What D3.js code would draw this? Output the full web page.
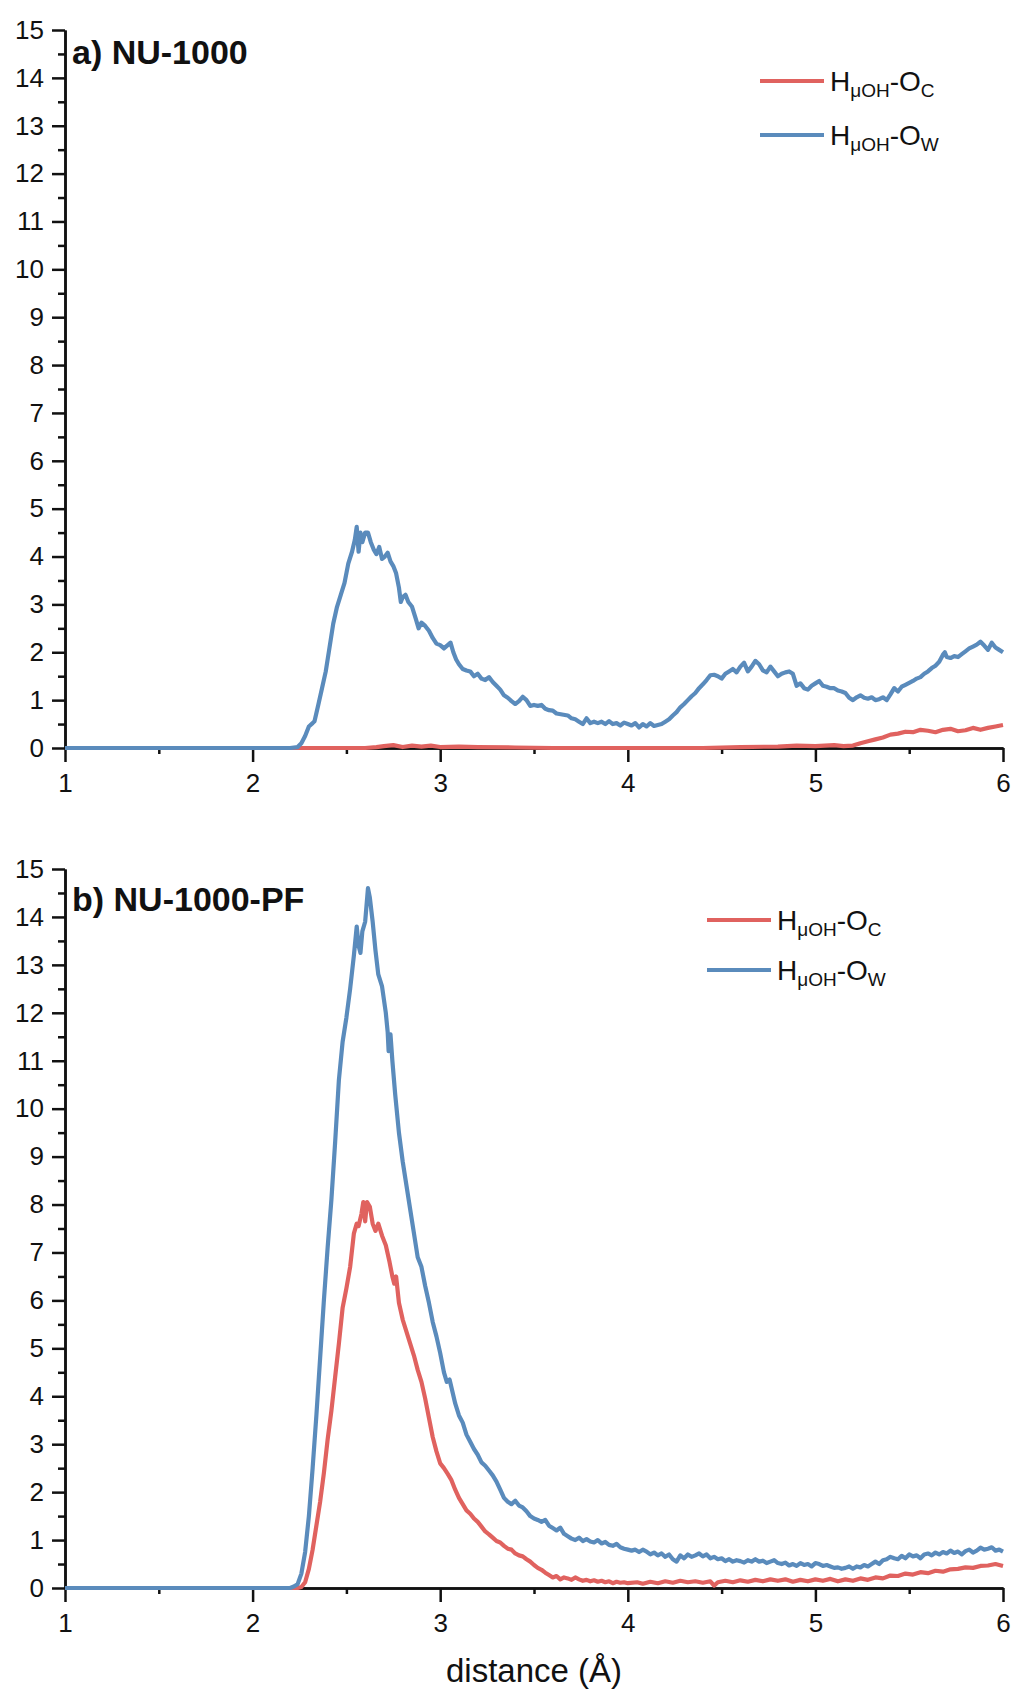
<!DOCTYPE html>
<html>
<head>
<meta charset="utf-8">
<script src="https://cdn.jsdelivr.net/npm/d3@7"></script>
<style>
  html, body { margin: 0; padding: 0; background: #fff; }
  svg { display: block; }
  text { font-family: "Liberation Sans", Arial, sans-serif; fill: #111; }
</style>
</head>
<body>
<svg id="chart" width="1016" height="1693"></svg>
<script>
// Radial distribution functions g(r) of the μ-OH hydrogen, two frameworks.
const xTicks = [1, 2, 3, 4, 5, 6];
const xMinorTicks = [1.5, 2.5, 3.5, 4.5, 5.5];
const yTicks = [0, 1, 2, 3, 4, 5, 6, 7, 8, 9, 10, 11, 12, 13, 14, 15];
const yMinorTicks = [0.5, 1.5, 2.5, 3.5, 4.5, 5.5, 6.5, 7.5, 8.5, 9.5, 10.5, 11.5, 12.5, 13.5, 14.5];

const seriesNames = ["Oc", "Ow"];
const panelTitles = ["a) NU-1000", "b) NU-1000-PF"];
const axisTitle = "distance (Å)";

// a) NU-1000 : H(μOH)–O(carboxylate)
const nu1000Oc = [
  [1.0,0],[2.3,0],[2.6,0],[2.66,0.02],[2.7,0.04],[2.75,0.06],[2.8,0.02],[2.85,0.05],[2.9,0.03],[2.95,0.05],
  [3.0,0.02],[3.1,0.03],[3.2,0.02],[3.4,0.01],[3.6,0],[4.0,0],[4.4,0],[4.6,0.02],[4.8,0.03],[4.9,0.05],
  [5.0,0.04],[5.1,0.06],[5.15,0.04],[5.2,0.05],[5.24,0.1],[5.28,0.14],[5.32,0.18],[5.36,0.22],[5.4,0.28],
  [5.44,0.3],[5.48,0.34],[5.52,0.33],[5.56,0.38],[5.6,0.36],[5.64,0.33],[5.68,0.38],[5.72,0.4],[5.76,0.35],
  [5.8,0.37],[5.84,0.42],[5.88,0.38],[5.92,0.42],[5.96,0.45],[6.0,0.48]
];

// a) NU-1000 : H(μOH)–O(water)
const nu1000Ow = [
  [1.0,0],[2.2,0],[2.24,0.02],[2.26,0.1],[2.28,0.25],[2.3,0.45],[2.32,0.52],[2.33,0.56],[2.35,0.9],[2.37,1.25],
  [2.39,1.6],[2.41,2.1],[2.43,2.6],[2.45,2.95],[2.47,3.2],[2.49,3.45],[2.51,3.85],[2.53,4.1],[2.545,4.35],
  [2.555,4.62],[2.565,4.1],[2.575,4.5],[2.585,4.3],[2.6,4.5],[2.615,4.5],[2.63,4.3],[2.645,4.15],[2.66,4.05],
  [2.675,4.2],[2.69,3.95],[2.705,4.0],[2.72,4.08],[2.735,3.9],[2.75,3.8],[2.765,3.65],[2.78,3.35],[2.79,3.05],
  [2.8,3.15],[2.815,3.2],[2.83,3.05],[2.85,2.95],[2.87,2.7],[2.885,2.5],[2.9,2.62],[2.92,2.55],[2.94,2.45],
  [2.96,2.3],[2.98,2.18],[3.0,2.15],[3.02,2.08],[3.04,2.15],[3.055,2.2],[3.07,2.0],[3.085,1.85],[3.1,1.75],
  [3.12,1.65],[3.14,1.62],[3.16,1.6],[3.18,1.5],[3.2,1.55],[3.22,1.45],[3.24,1.42],[3.26,1.48],[3.28,1.38],
  [3.3,1.3],[3.32,1.22],[3.34,1.1],[3.36,1.05],[3.38,0.98],[3.4,0.92],[3.42,0.98],[3.44,1.07],[3.46,1.0],
  [3.48,0.88],[3.5,0.9],[3.52,0.88],[3.54,0.9],[3.56,0.82],[3.58,0.79],[3.6,0.78],[3.62,0.72],[3.65,0.7],
  [3.68,0.68],[3.7,0.62],[3.72,0.6],[3.74,0.55],[3.76,0.5],[3.78,0.62],[3.8,0.52],[3.82,0.55],[3.84,0.52],
  [3.86,0.55],[3.88,0.5],[3.9,0.56],[3.92,0.5],[3.94,0.52],[3.96,0.47],[3.98,0.53],[4.0,0.5],[4.02,0.47],
  [4.04,0.52],[4.06,0.43],[4.08,0.5],[4.1,0.45],[4.12,0.52],[4.14,0.46],[4.16,0.48],[4.18,0.5],[4.2,0.55],
  [4.22,0.6],[4.24,0.68],[4.26,0.75],[4.28,0.85],[4.3,0.92],[4.32,1.0],[4.34,1.08],[4.36,1.15],[4.38,1.25],
  [4.4,1.33],[4.42,1.42],[4.44,1.52],[4.46,1.53],[4.48,1.5],[4.5,1.45],[4.52,1.55],[4.54,1.6],[4.56,1.65],
  [4.58,1.58],[4.6,1.7],[4.62,1.78],[4.64,1.6],[4.66,1.7],[4.68,1.82],[4.7,1.75],[4.72,1.62],[4.74,1.58],
  [4.76,1.7],[4.78,1.6],[4.8,1.5],[4.82,1.55],[4.84,1.58],[4.86,1.6],[4.88,1.55],[4.9,1.3],[4.92,1.35],
  [4.94,1.25],[4.96,1.22],[4.98,1.3],[5.0,1.35],[5.02,1.4],[5.04,1.3],[5.06,1.28],[5.08,1.25],[5.1,1.25],
  [5.12,1.2],[5.14,1.18],[5.16,1.15],[5.18,1.05],[5.2,1.0],[5.22,1.06],[5.24,1.1],[5.26,1.05],[5.28,1.03],
  [5.3,1.06],[5.32,1.0],[5.34,1.02],[5.36,1.06],[5.38,1.0],[5.4,1.12],[5.42,1.25],[5.44,1.18],[5.46,1.28],
  [5.48,1.32],[5.5,1.36],[5.52,1.4],[5.54,1.45],[5.56,1.48],[5.58,1.55],[5.6,1.6],[5.62,1.67],[5.64,1.72],
  [5.66,1.8],[5.68,1.95],[5.69,2.0],[5.7,1.9],[5.72,1.88],[5.74,1.92],[5.76,1.9],[5.78,1.96],[5.8,2.02],
  [5.82,2.08],[5.84,2.12],[5.86,2.16],[5.88,2.22],[5.9,2.14],[5.92,2.05],[5.94,2.2],[5.96,2.1],[5.98,2.05],
  [6.0,2.0]
];

// b) NU-1000-PF : H(μOH)–O(carboxylate)
const nu1000pfOc = [
  [1.0,0],[2.24,0],[2.26,0.02],[2.28,0.12],[2.3,0.4],[2.32,0.8],[2.34,1.3],[2.36,1.8],[2.38,2.4],[2.4,3.1],
  [2.42,3.7],[2.44,4.4],[2.46,5.1],[2.48,5.85],[2.5,6.25],[2.52,6.7],[2.54,7.4],[2.555,7.6],[2.565,7.55],
  [2.58,7.8],[2.59,8.05],[2.6,7.65],[2.61,8.05],[2.625,7.95],[2.64,7.6],[2.655,7.45],[2.67,7.6],[2.69,7.35],
  [2.71,7.15],[2.73,6.8],[2.745,6.5],[2.755,6.35],[2.765,6.5],[2.78,5.95],[2.8,5.6],[2.82,5.35],[2.84,5.1],
  [2.86,4.85],[2.88,4.55],[2.9,4.3],[2.92,3.95],[2.94,3.55],[2.96,3.15],[2.98,2.85],[3.0,2.6],[3.02,2.5],
  [3.04,2.38],[3.06,2.25],[3.08,2.05],[3.1,1.88],[3.12,1.75],[3.14,1.62],[3.16,1.55],[3.18,1.45],[3.2,1.38],
  [3.22,1.28],[3.24,1.18],[3.26,1.12],[3.28,1.05],[3.3,0.98],[3.32,0.95],[3.34,0.88],[3.36,0.82],[3.38,0.8],
  [3.4,0.72],[3.42,0.68],[3.44,0.66],[3.46,0.6],[3.48,0.55],[3.5,0.48],[3.52,0.42],[3.54,0.38],[3.56,0.32],
  [3.58,0.27],[3.6,0.22],[3.62,0.25],[3.64,0.18],[3.66,0.22],[3.68,0.2],[3.7,0.17],[3.72,0.22],[3.74,0.18],
  [3.76,0.15],[3.78,0.17],[3.8,0.14],[3.82,0.16],[3.84,0.13],[3.86,0.15],[3.88,0.12],[3.9,0.14],[3.92,0.1],
  [3.94,0.13],[3.96,0.11],[3.98,0.12],[4.0,0.1],[4.05,0.12],[4.08,0.09],[4.12,0.13],[4.16,0.1],[4.2,0.14],
  [4.24,0.11],[4.28,0.15],[4.32,0.12],[4.36,0.14],[4.4,0.11],[4.44,0.14],[4.46,0.05],[4.48,0.12],[4.52,0.15],
  [4.56,0.12],[4.6,0.16],[4.64,0.13],[4.68,0.17],[4.72,0.14],[4.76,0.18],[4.8,0.15],[4.84,0.18],[4.88,0.13],
  [4.92,0.17],[4.96,0.14],[5.0,0.18],[5.04,0.15],[5.08,0.19],[5.12,0.14],[5.16,0.18],[5.2,0.15],[5.24,0.2],
  [5.28,0.17],[5.32,0.22],[5.36,0.2],[5.4,0.26],[5.44,0.25],[5.48,0.3],[5.52,0.28],[5.56,0.33],[5.6,0.31],
  [5.64,0.36],[5.68,0.34],[5.72,0.39],[5.76,0.4],[5.8,0.43],[5.84,0.42],[5.88,0.46],[5.92,0.47],[5.96,0.5],
  [6.0,0.46]
];

// b) NU-1000-PF : H(μOH)–O(water)
const nu1000pfOw = [
  [1.0,0],[2.2,0],[2.22,0.03],[2.24,0.08],[2.26,0.3],[2.28,0.75],[2.3,1.5],[2.32,2.5],[2.34,3.6],[2.36,4.8],
  [2.38,6.0],[2.4,7.1],[2.42,8.1],[2.44,9.3],[2.46,10.6],[2.48,11.4],[2.5,11.9],[2.52,12.5],[2.54,13.2],
  [2.555,13.8],[2.565,13.4],[2.575,13.25],[2.585,13.7],[2.6,13.9],[2.615,14.6],[2.625,14.4],[2.64,13.9],
  [2.655,13.3],[2.67,12.8],[2.69,12.55],[2.71,12.0],[2.72,11.6],[2.725,11.2],[2.735,11.55],[2.745,11.0],
  [2.76,10.3],[2.78,9.5],[2.8,8.9],[2.82,8.4],[2.84,7.9],[2.86,7.4],[2.88,6.9],[2.9,6.7],[2.92,6.3],
  [2.94,5.95],[2.96,5.55],[2.98,5.25],[3.0,4.9],[3.02,4.5],[3.035,4.3],[3.05,4.35],[3.065,4.1],[3.08,3.85],
  [3.1,3.6],[3.12,3.45],[3.14,3.2],[3.16,3.05],[3.18,2.9],[3.2,2.78],[3.22,2.62],[3.24,2.55],[3.26,2.45],
  [3.28,2.35],[3.3,2.22],[3.32,2.05],[3.34,1.88],[3.36,1.8],[3.38,1.75],[3.4,1.82],[3.42,1.72],[3.44,1.68],
  [3.46,1.6],[3.48,1.5],[3.5,1.45],[3.52,1.42],[3.54,1.38],[3.56,1.42],[3.58,1.3],[3.6,1.25],[3.62,1.2],
  [3.64,1.26],[3.66,1.13],[3.68,1.08],[3.7,1.03],[3.72,1.0],[3.74,1.05],[3.76,0.98],[3.78,1.02],[3.8,0.97],
  [3.82,0.95],[3.84,1.0],[3.86,0.93],[3.88,0.96],[3.9,0.9],[3.92,0.88],[3.94,0.92],[3.96,0.85],[3.98,0.82],
  [4.0,0.8],[4.02,0.78],[4.04,0.8],[4.06,0.75],[4.08,0.8],[4.1,0.76],[4.12,0.7],[4.14,0.74],[4.16,0.68],
  [4.18,0.72],[4.2,0.65],[4.22,0.7],[4.24,0.6],[4.26,0.55],[4.28,0.68],[4.3,0.62],[4.32,0.7],[4.34,0.65],
  [4.36,0.68],[4.38,0.72],[4.4,0.66],[4.42,0.7],[4.44,0.62],[4.46,0.65],[4.48,0.6],[4.5,0.62],[4.52,0.56],
  [4.54,0.6],[4.56,0.55],[4.58,0.58],[4.6,0.56],[4.62,0.53],[4.64,0.58],[4.66,0.55],[4.68,0.6],[4.7,0.55],
  [4.72,0.57],[4.74,0.52],[4.76,0.55],[4.78,0.58],[4.8,0.52],[4.82,0.5],[4.84,0.53],[4.86,0.47],[4.88,0.5],
  [4.9,0.46],[4.92,0.52],[4.94,0.48],[4.96,0.5],[4.98,0.45],[5.0,0.52],[5.02,0.5],[5.04,0.46],[5.06,0.48],
  [5.08,0.45],[5.1,0.42],[5.12,0.43],[5.14,0.4],[5.16,0.42],[5.18,0.45],[5.2,0.4],[5.22,0.45],[5.24,0.43],
  [5.26,0.48],[5.28,0.45],[5.3,0.5],[5.32,0.55],[5.34,0.5],[5.36,0.58],[5.38,0.6],[5.4,0.65],[5.42,0.62],
  [5.44,0.6],[5.46,0.67],[5.48,0.62],[5.5,0.7],[5.52,0.66],[5.54,0.68],[5.56,0.62],[5.58,0.7],[5.6,0.72],
  [5.62,0.68],[5.64,0.74],[5.66,0.7],[5.68,0.75],[5.7,0.72],[5.72,0.78],[5.74,0.73],[5.76,0.76],[5.78,0.7],
  [5.8,0.77],[5.82,0.8],[5.84,0.74],[5.86,0.78],[5.88,0.84],[5.9,0.8],[5.92,0.82],[5.94,0.85],[5.96,0.78],
  [5.98,0.8],[6.0,0.76]
];

const colors = { Oc: "#e0625f", Ow: "#5a8bbc" };

const svg = d3.select("#chart");
svg.append("rect").attr("width", 1016).attr("height", 1693).attr("fill", "#fff");

const x = d3.scaleLinear().domain([1, 6]).range([65, 1003]);

const panels = [
  { title: panelTitles[0], y0: 748, y1: 30, titleY: 64, legendX: 760, legendY: 81, legendGap: 54,
    series: { Oc: nu1000Oc, Ow: nu1000Ow } },
  { title: panelTitles[1], y0: 1588, y1: 869, titleY: 911, legendX: 707, legendY: 920, legendGap: 50,
    series: { Oc: nu1000pfOc, Ow: nu1000pfOw } }
];

panels.forEach(p => {
  const y = d3.scaleLinear().domain([0, 15]).range([p.y0, p.y1]);
  const g = svg.append("g");

  // minor ticks first, then major axes on top
  g.append("g").attr("transform", `translate(${x(1)},0)`)
    .call(d3.axisLeft(y).tickValues(yMinorTicks).tickSize(7).tickSizeOuter(0).tickFormat(""));
  g.append("g").attr("transform", `translate(0,${y(0)})`)
    .call(d3.axisBottom(x).tickValues(xMinorTicks).tickSize(6).tickSizeOuter(0).tickFormat(""));

  g.append("g").attr("transform", `translate(${x(1)},0)`)
    .call(d3.axisLeft(y).tickValues(yTicks).tickSize(13).tickSizeOuter(0).tickPadding(8)
      .tickFormat(d3.format("d")));
  g.append("g").attr("transform", `translate(0,${y(0)})`)
    .call(d3.axisBottom(x).tickValues(xTicks).tickSize(14).tickSizeOuter(0).tickPadding(12)
      .tickFormat(d3.format("d")));

  g.selectAll(".domain").attr("stroke", "#111").attr("stroke-width", 2.5);
  g.selectAll(".tick line").attr("stroke", "#111").attr("stroke-width", 2.5);
  g.selectAll(".tick text")
    .attr("font-size", 26)
    .attr("font-family", "'Liberation Sans', Arial, sans-serif")
    .attr("fill", "#111");

  // g(r) curves: carboxylate first, water on top
  const line = d3.line().x(d => x(d[0])).y(d => y(d[1]));
  seriesNames.forEach(name => {
    g.append("path")
      .datum(p.series[name])
      .attr("fill", "none")
      .attr("stroke", colors[name])
      .attr("stroke-width", 4.2)
      .attr("stroke-linejoin", "round")
      .attr("d", line);
  });

  // panel label
  g.append("text")
    .attr("x", 72).attr("y", p.titleY)
    .attr("font-size", 34).attr("font-weight", "bold")
    .text(p.title);

  // legend
  seriesNames.forEach((name, i) => {
    const ly = p.legendY + i * p.legendGap;
    g.append("line")
      .attr("x1", p.legendX).attr("x2", p.legendX + 64)
      .attr("y1", ly).attr("y2", ly)
      .attr("stroke", colors[name]).attr("stroke-width", 4.2);
    const t = g.append("text")
      .attr("x", p.legendX + 70).attr("y", ly + 10)
      .attr("font-size", 28);
    t.append("tspan").text("H");
    t.append("tspan").attr("font-size", 19).attr("dy", 6).text("μOH");
    t.append("tspan").attr("dy", -6).text("-O");
    t.append("tspan").attr("font-size", 19).attr("dy", 6).text(name === "Oc" ? "C" : "W");
  });
});

// shared x-axis title
svg.append("text")
  .attr("x", x(3.5)).attr("y", 1682)
  .attr("text-anchor", "middle")
  .attr("font-size", 33)
  .text(axisTitle);
</script>
</body>
</html>
